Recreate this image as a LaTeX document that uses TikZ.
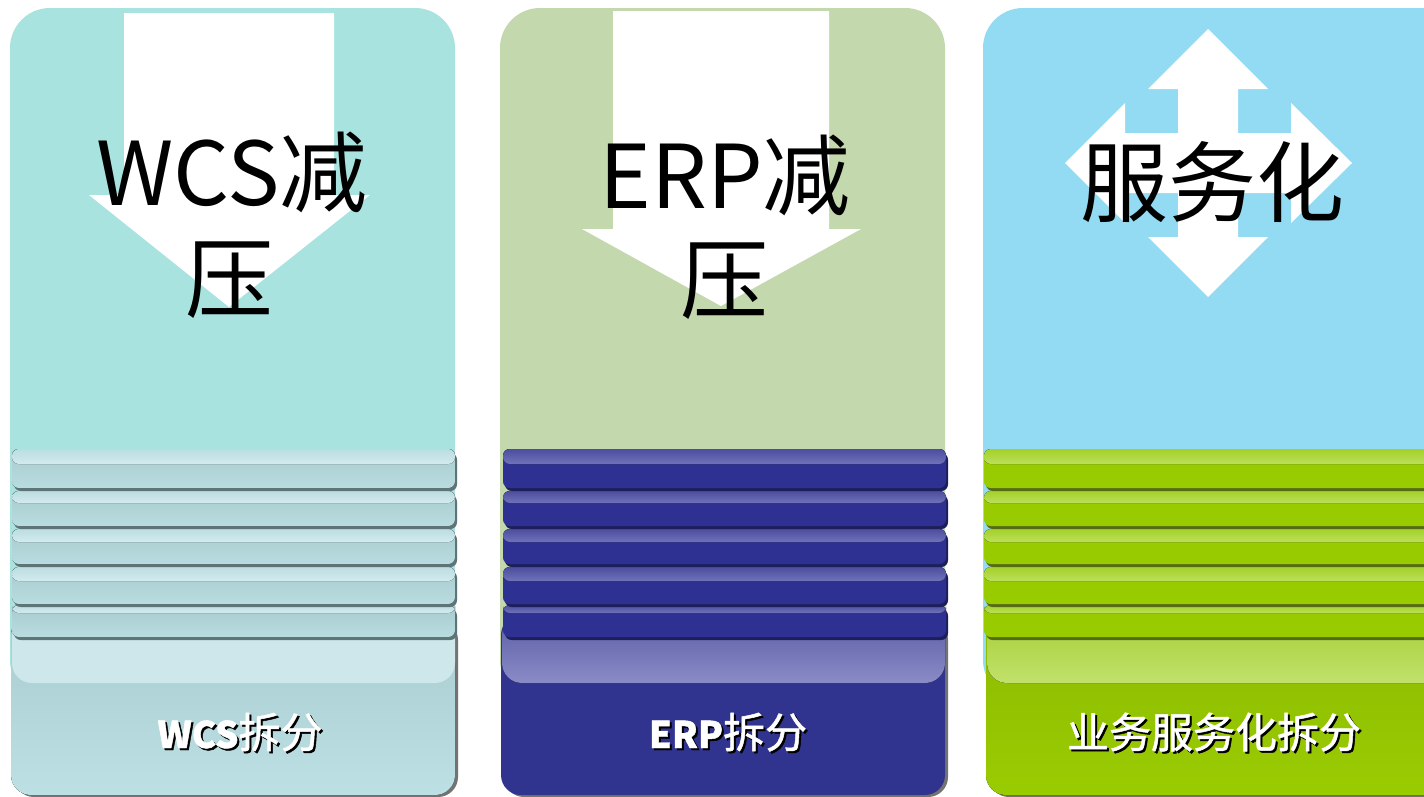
\documentclass[tikz,border=0pt]{standalone}
\usepackage{fontspec}
\setmainfont{Noto Sans CJK SC}
\newfontfamily\labfont[FakeBold=1.2]{Noto Sans CJK SC}
\definecolor{bgA}{HTML}{A8E3DF}
\definecolor{bgB}{HTML}{C4D8AE}
\definecolor{bgC}{HTML}{93DBF3}
\definecolor{wMain}{HTML}{B8DCDF}
\definecolor{wMainT}{HTML}{A8CBCE}
\definecolor{wHi}{HTML}{D2EBEE}
\definecolor{wHiT}{HTML}{BCDDE0}
\definecolor{wDark}{HTML}{5E7577}
\definecolor{wBotT}{HTML}{A8CBCE}
\definecolor{wBotB}{HTML}{BCE0E4}
\definecolor{wShine}{HTML}{CDE7EA}
\definecolor{eMain}{HTML}{2E3192}
\definecolor{eHi}{HTML}{7072BA}
\definecolor{eHiT}{HTML}{4C4E9E}
\definecolor{eDark}{HTML}{1D1F5C}
\definecolor{eBot}{HTML}{31348F}
\definecolor{eShT}{HTML}{5A5CA6}
\definecolor{eShB}{HTML}{8A8BC6}
\definecolor{gMain}{HTML}{99CC00}
\definecolor{gHi}{HTML}{BCDF5C}
\definecolor{gHiT}{HTML}{A4D128}
\definecolor{gDark}{HTML}{566B16}
\definecolor{gBotT}{HTML}{8BBA00}
\definecolor{gBotB}{HTML}{9ACC02}
\definecolor{gShT}{HTML}{A5CF35}
\definecolor{gShB}{HTML}{C1E16C}
\newcommand\stackbar[8]{%
  \fill[#7,rounded corners=5pt] (#1+2,#3+4) rectangle (#2+2,#4);
  \fill[#5,rounded corners=5pt] (#1,#3) rectangle (#2,#4-3);
  \fill[#6,rounded corners=5pt] (#1,#3) rectangle (#2,#3+#8);
}
\newcommand\barstack[5]{%
  \stackbar{#1}{#2}{605}{640}{#3}{#4}{#5}{8}
  \stackbar{#1}{#2}{567}{607}{#3}{#4}{#5}{14}
  \stackbar{#1}{#2}{529}{567}{#3}{#4}{#5}{13}
  \stackbar{#1}{#2}{491}{529}{#3}{#4}{#5}{12}
  \stackbar{#1}{#2}{449}{491}{#3}{#4}{#5}{15}
}
\tikzset{
  title/.style={font=\fontsize{66}{76}\selectfont, text=black, inner sep=0pt, anchor=base},
  lab/.style={font=\labfont\fontsize{31.5}{36}\selectfont, inner sep=0pt, anchor=base},
  arrowfill/.style={fill=white},
  shadowblk/.style={fill=black!55, rounded corners=15pt},
  wmain/.style={top color=wMainT, bottom color=wMain},
  whi/.style={top color=wHiT, bottom color=wHi},
  emain/.style={fill=eMain},
  ehi/.style={top color=eHiT, bottom color=eHi},
  gmain/.style={fill=gMain},
  ghi/.style={top color=gHiT, bottom color=gHi},
}
\newcommand\latb[1]{{\fontsize{27.5}{30}\selectfont\bfseries #1}}
\begin{document}
\begin{tikzpicture}[x=0.75pt,y=-0.75pt]
\clip (0,0) rectangle (1424,796);
\fill[white] (0,0) rectangle (1424,796);

% ---------- panel 1 : WCS ----------
\fill[bgA, rounded corners=30pt] (10,8) rectangle (455,700);
\path[shadowblk] (14,620) rectangle (458,797);
\fill[top color=wBotT, bottom color=wBotB, rounded corners=15pt] (11,615) rectangle (455,795);
\fill[wShine, rounded corners=15pt] (12,615) rectangle (455,683);
\barstack{12}{455}{wmain}{whi}{wDark}
\fill[arrowfill] (124,13) -- (334,13) -- (334,195) -- (370,195) -- (229,307) -- (89,195) -- (124,195) -- cycle;
\node[title] (t1a) at (232,205) {WCS减};
\node[title] (t1b) at (229,311) {压};
\node[lab, text=black] (l1s) at (242,750) {\latb{WCS}拆分};
\node[lab, text=white] (l1) at (240,748) {\latb{WCS}拆分};

% ---------- panel 2 : ERP ----------
\fill[bgB, rounded corners=30pt] (500,8) rectangle (945,700);
\path[shadowblk] (504,620) rectangle (948,797);
\fill[eBot, rounded corners=15pt] (501,615) rectangle (945,795);
\fill[top color=eShT, bottom color=eShB, rounded corners=15pt] (502,615) rectangle (945,683);
\barstack{503}{946}{emain}{ehi}{eDark}
\fill[arrowfill] (613,11) -- (829,11) -- (829,229) -- (861,229) -- (721,306) -- (582,229) -- (613,229) -- cycle;
\node[title] (t2a) at (725,208) {ERP减};
\node[title] (t2b) at (724,312) {压};
\node[lab, text=black] (l2s) at (730,750) {\latb{ERP}拆分};
\node[lab, text=white] (l2) at (728,748) {\latb{ERP}拆分};

% ---------- panel 3 : 服务化 ----------
\fill[bgC, rounded corners=30pt] (983,8) rectangle (1500,700);
\path[shadowblk] (989,620) rectangle (1500,797);
\fill[top color=gBotT, bottom color=gBotB, rounded corners=15pt] (986,615) rectangle (1500,795);
\fill[top color=gShT, bottom color=gShB, rounded corners=15pt] (987,615) rectangle (1500,683);
\barstack{984}{1500}{gmain}{ghi}{gDark}
\fill[arrowfill] (1208,29) -- (1268,89) -- (1238,89) -- (1238,133) -- (1291,133) -- (1291,103) -- (1352,163)
  -- (1291,223) -- (1291,193) -- (1238,193) -- (1238,237) -- (1268,237) -- (1208,297) -- (1148,237)
  -- (1178,237) -- (1178,193) -- (1125,193) -- (1125,223) -- (1065,163) -- (1125,103) -- (1125,133)
  -- (1178,133) -- (1178,89) -- (1148,89) -- cycle;
\node[title] (t3) at (1212,215) {服务化};
\node[lab, text=black] (l3s) at (1216,750) {业务服务化拆分};
\node[lab, text=white] (l3) at (1214,748) {业务服务化拆分};
\end{tikzpicture}
\end{document}
